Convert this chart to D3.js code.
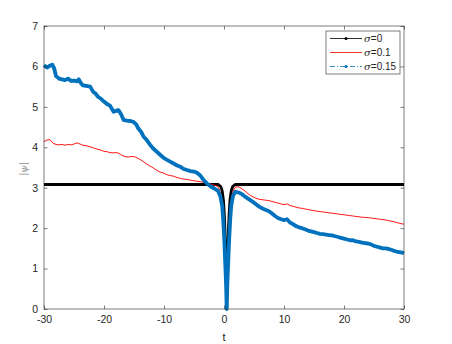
<!DOCTYPE html>
<html lang="en">
<head>
<meta charset="UTF-8">
<title>|psi| vs t</title>
<style>
  html, body { margin: 0; background: #fff; overflow: hidden; }
  svg text { font-family: "Liberation Sans", Arial, sans-serif; fill: #262626; }
</style>
</head>
<body>
<div id="container"></div>
<script src="https://cdnjs.cloudflare.com/ajax/libs/d3/7.8.5/d3.min.js"></script>
<script>
// sigma = 0 (black)
var tBlack   = [-30, -0.95, -0.55, -0.3, -0.1, 0.05, 0.15, 0.25, 0.35, 0.45, 0.55, 0.65, 0.75, 0.85, 1.0, 1.2, 1.45, 1.85, 30];
var psiBlack = [3.08, 3.08, 3.03, 2.92, 2.7, 2.35, 2.0, 1.5, 0.9, 0, 0.9, 1.5, 2.0, 2.35, 2.7, 2.92, 3.03, 3.08, 3.08];

// sigma = 0.1 (red)
var tRed = [-30,-29.5,-29,-28.5,-28,-27.5,-27,-26.5,-26,-25.5,-25,-24.5,-24,-23.5,-23,-22.5,-22,-21.5,-21,-20.5,-20,
  -19.5,-19,-18.5,-18,-17.5,-17,-16.5,-16,-15.5,-15,-14.5,-14,-13.5,-13,-12.5,-12,-11.5,-11,-10.5,-10,-9.5,-9,-8.5,-8,
  -7.5,-7,-6.5,-6,-5,-4,-3,-2.2,-1.5,-1,-0.6,-0.3,-0.15,0.05,0.2,0.45,0.7,0.85,1.05,1.2,1.5,1.9,2.5,3,3.5,4,4.5,5,5.5,6,6.5,
  7,7.5,8,8.5,9,9.5,10,10.5,11,11.5,12,12.5,13,14,15,16,17,18,19,20,21,22,23,24,25,26,27,28,29,29.5,30];
var psiRed = [4.14,4.18,4.19,4.10,4.07,4.06,4.07,4.05,4.07,4.06,4.08,4.11,4.08,4.05,4.04,4.02,4.00,3.97,3.95,3.93,3.90,
  3.89,3.87,3.86,3.87,3.85,3.80,3.77,3.76,3.77,3.77,3.74,3.70,3.65,3.60,3.55,3.51,3.46,3.41,3.38,3.36,3.32,3.30,3.29,3.26,
  3.24,3.22,3.21,3.20,3.17,3.15,3.12,3.09,3.06,3.03,2.88,2.62,2.30,1.75,1.20,0,1.20,1.75,2.30,2.62,2.90,3.02,3.02,2.97,2.92,2.85,2.80,2.76,2.73,2.71,2.70,
  2.69,2.68,2.66,2.64,2.62,2.60,2.58,2.60,2.56,2.54,2.52,2.50,2.49,2.46,2.43,2.41,2.39,2.37,2.35,2.33,2.31,2.29,2.27,2.26,2.24,2.22,2.20,2.17,2.13,2.11,2.10];

// sigma = 0.15 (blue)
var tBlue = [-30,-29.5,-29,-28.6,-28.3,-28,-27.5,-27,-26.5,-26,-25.5,-25,-24.5,-24.2,-23.8,-23.5,-23,-22.3,-21.8,-21.4,-21,
  -20.5,-20,-19.5,-19,-18.4,-18,-17.6,-17.2,-16.7,-16.2,-15.6,-15.1,-14.6,-14.3,-13.8,-13.4,-13,-12.3,-11.8,-11.2,-10.6,
  -10,-9.5,-8.9,-8.4,-7.8,-7.3,-6.8,-6.2,-5.6,-5,-4.5,-4,-3.4,-2.8,-2.2,-1.6,-1,-0.6,-0.3,-0.15,0.05,0.2,0.35,0.45,0.55,0.7,0.85,1.05,
  1.2,1.5,1.9,2.5,3,3.5,4,4.5,5,5.5,6,6.5,7,7.5,8,8.5,9,9.5,10,10.5,11,11.5,12,12.5,13,13.5,14,14.5,15,15.5,16,16.5,17,17.5,
  18,18.5,19,19.5,20,20.5,21,21.5,22,22.5,23,23.5,24,24.5,25,25.5,26,26.5,27,27.5,28,28.5,29,29.5,30];
var psiBlue = [6.03,5.97,6.02,6.04,5.95,5.76,5.70,5.68,5.66,5.70,5.64,5.65,5.63,5.68,5.58,5.53,5.52,5.50,5.37,5.33,5.25,
  5.20,5.13,5.07,5.03,4.88,4.90,4.92,4.83,4.67,4.66,4.65,4.63,4.56,4.47,4.38,4.26,4.20,4.06,3.97,3.89,3.81,
  3.73,3.69,3.64,3.60,3.55,3.52,3.47,3.44,3.41,3.40,3.37,3.31,3.19,3.10,3.03,2.98,2.92,2.78,2.55,2.25,1.70,1.15,0.60,0,0.60,1.15,1.70,2.25,
  2.55,2.80,2.90,2.88,2.84,2.78,2.73,2.68,2.63,2.57,2.52,2.48,2.45,2.42,2.36,2.30,2.25,2.22,2.20,2.22,2.14,2.10,2.05,2.02,2.00,1.97,1.94,1.92,1.90,1.88,1.86,1.85,1.84,1.83,
  1.82,1.80,1.78,1.76,1.74,1.72,1.70,1.70,1.67,1.66,1.64,1.63,1.62,1.60,1.56,1.54,1.52,1.50,1.50,1.48,1.46,1.43,1.41,1.40,1.38];

var xTicks = [-30, -20, -10, 0, 10, 20, 30];
var yTicks = [0, 1, 2, 3, 4, 5, 6, 7];
var legendLabels = ["0", "0.1", "0.15"];

var W = 452, H = 344;
var pL = 44, pR = 404, pT = 26, pB = 309;
var axisCol = "#262626";

var svg = d3.select("#container").append("svg")
  .attr("width", W).attr("height", H);

var x = d3.scaleLinear().domain([-30, 30]).range([pL, pR]);
var y = d3.scaleLinear().domain([0, 7]).range([pB, pT]);

function pts(ts, vs) { return ts.map(function(t, i) { return [t, vs[i]]; }); }
var line = d3.line().x(function(d) { return x(d[0]); }).y(function(d) { return y(d[1]); });

var plot = svg.append("g");
plot.append("path").datum(pts(tBlack, psiBlack)).attr("d", line)
  .attr("fill", "none").attr("stroke", "#000").attr("stroke-width", 2.8).attr("stroke-linejoin", "round");
plot.append("path").datum(pts(tRed, psiRed)).attr("d", line)
  .attr("fill", "none").attr("stroke", "#ff0000").attr("stroke-width", 0.9).attr("stroke-linejoin", "round");
plot.append("path").datum(pts(tBlue, psiBlue)).attr("d", line)
  .attr("fill", "none").attr("stroke", "#0072bd").attr("stroke-width", 3.8).attr("stroke-linejoin", "round");

// axes (box with inward ticks)
var ax = svg.append("g");
ax.append("rect").attr("x", pL).attr("y", pT).attr("width", pR - pL).attr("height", pB - pT)
  .attr("fill", "none").attr("stroke", axisCol).attr("stroke-width", 0.6);

var gx = ax.append("g").attr("transform", "translate(0," + pB + ")")
  .call(d3.axisBottom(x).tickValues(xTicks).tickSize(-3.5).tickPadding(7).tickFormat(d3.format("d")));
var gxTop = ax.append("g").attr("transform", "translate(0," + pT + ")")
  .call(d3.axisTop(x).tickValues(xTicks).tickSize(-3.5).tickFormat(""));
var gy = ax.append("g").attr("transform", "translate(" + pL + ",0)")
  .call(d3.axisLeft(y).tickValues(yTicks).tickSize(-3.5).tickPadding(6).tickFormat(d3.format("d")));
var gyR = ax.append("g").attr("transform", "translate(" + pR + ",0)")
  .call(d3.axisRight(y).tickValues(yTicks).tickSize(-3.5).tickFormat(""));

[gx, gxTop, gy, gyR].forEach(function(g) {
  g.select(".domain").remove();
  g.selectAll(".tick line").attr("stroke", axisCol).attr("stroke-width", 0.6);
  g.selectAll(".tick text").attr("fill", axisCol).style("font-size", "10.5px")
    .style("font-family", "'Liberation Sans', Arial, sans-serif");
});
gx.selectAll(".tick text").text(function(d) { return d < 0 ? "-" + Math.abs(d) : d; });

// axis labels
svg.append("text").attr("x", (pL + pR) / 2).attr("y", 341).attr("text-anchor", "middle")
  .style("font-size", "11px").text("t");
svg.append("text").attr("transform", "translate(27," + 169 + ") rotate(-90)").attr("text-anchor", "middle")
  .style("font-size", "10px").style("fill", "#8c8c8c")
  .html("|<tspan font-style='italic' font-family='DejaVu Serif'>ψ</tspan>|");

// legend
var lg = svg.append("g");
lg.append("rect").attr("x", 326).attr("y", 31).attr("width", 74).attr("height", 43)
  .attr("fill", "#fff").attr("stroke", axisCol).attr("stroke-width", 0.6);
var lgColors = ["#000", "#ff0000", "#0072bd"];
var lgDash = [null, null, "5,2,1,2"];
var lgMarker = [true, false, true];
legendLabels.forEach(function(lbl, i) {
  var yy = 38.5 + i * 14;
  lg.append("line").attr("x1", 330).attr("x2", 362).attr("y1", yy).attr("y2", yy)
    .attr("stroke", lgColors[i]).attr("stroke-width", 0.8).attr("stroke-dasharray", lgDash[i]);
  if (lgMarker[i]) {
    lg.append("circle").attr("cx", 346).attr("cy", yy).attr("r", 1.5).attr("fill", lgColors[i]);
  }
  lg.append("text").attr("x", 364).attr("y", yy + 3.5).style("font-size", "10px")
    .html("<tspan font-style='italic' font-family='DejaVu Serif'>σ</tspan>=" + lbl);
});
</script>
</body>
</html>
